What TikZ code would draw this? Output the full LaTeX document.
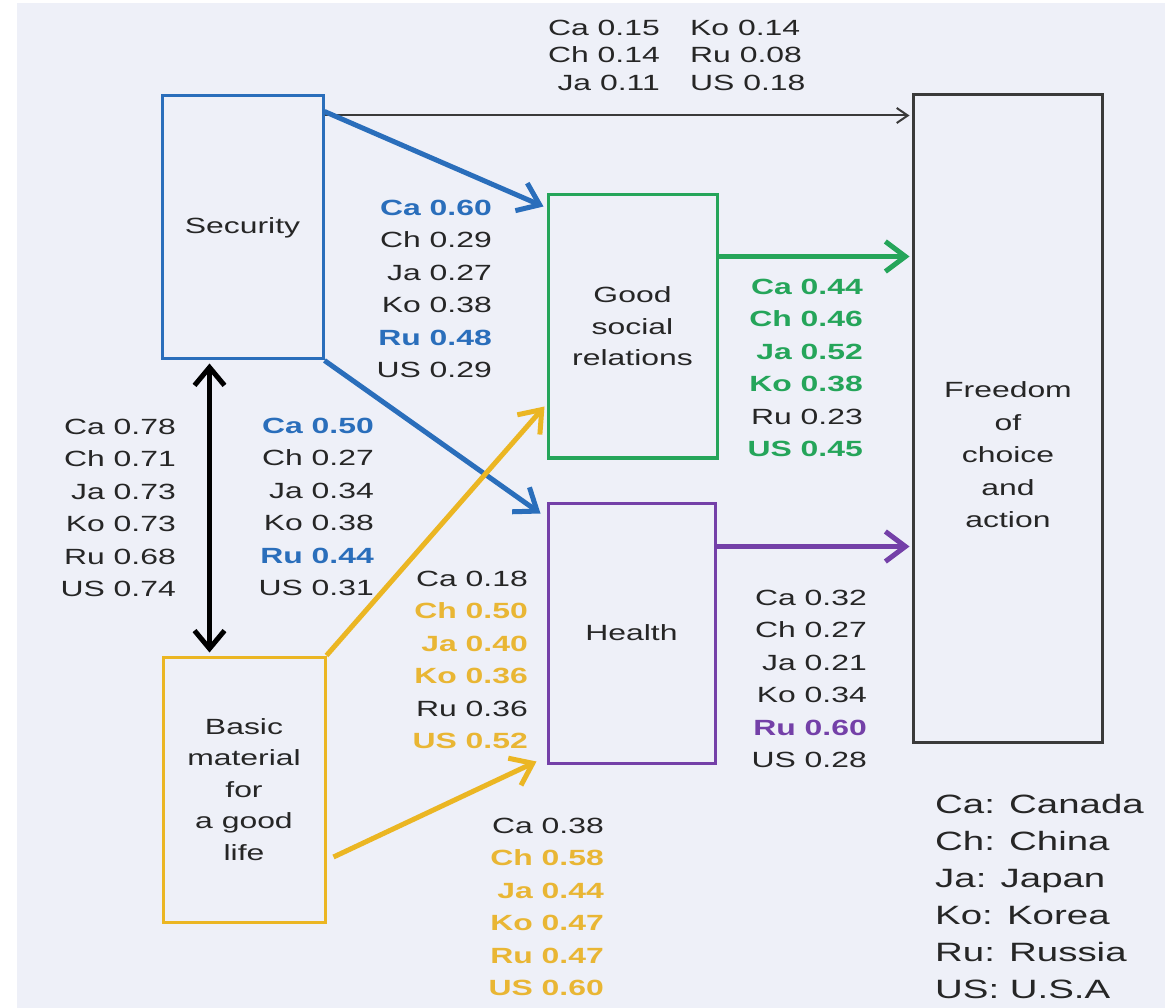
\documentclass[tikz,border=0pt]{standalone}
\usepackage{fontspec}
\setmainfont{Liberation Sans}[FakeStretch=1.45]
\usetikzlibrary{arrows.meta,calc}
\definecolor{bg}{HTML}{EEF0F8}
\definecolor{cblue}{HTML}{2A6EBB}
\definecolor{cgreen}{HTML}{25A55A}
\definecolor{cpurple}{HTML}{7440A8}
\definecolor{cyellow}{HTML}{EBB623}
\definecolor{tyellow}{HTML}{E9B634}
\definecolor{ink}{HTML}{262626}
\definecolor{boxgray}{HTML}{3A3A3A}
\newcommand{\cb}[1]{\textbf{\color{cblue}#1}}
\newcommand{\cg}[1]{\textbf{\color{cgreen}#1}}
\newcommand{\cp}[1]{\textbf{\color{cpurple}#1}}
\newcommand{\cy}[1]{\textbf{\color{tyellow}#1}}
\begin{document}
\begin{tikzpicture}[x=1pt,y=-1pt,
  every node/.style={text=ink},
  box/.style={draw, line width=3pt, inner sep=0pt, align=center,
    font=\fontsize{22}{31.5}\selectfont},
  lab/.style={inner sep=0pt, align=right, anchor=east,
    font=\fontsize{22}{32.4}\selectfont},
  thickarrow/.style={line width=5pt, -{Straight Barb[length=20pt,width=30pt]}},
  thinarrow/.style={line width=2pt, draw=boxgray, -{Straight Barb[length=11pt,width=15pt]}}
]
\useasboundingbox (0,0) rectangle (1171,1008);
\fill[bg] (17,3) rectangle (1165,1008);

% boxes
\node[box, draw=cblue, minimum width=161pt, minimum height=263pt] (sec) at (242.5,227.5) {Security};
\node[box, draw=cgreen, minimum width=169pt, minimum height=263pt] (good) at (632.5,326.5) {Good\\social\\relations};
\node[box, draw=cpurple, minimum width=167pt, minimum height=260pt] (health) at (631.5,633) {Health};
\node[box, draw=boxgray, minimum width=189pt, minimum height=647pt] (free) at (1007.5,418.5) {};
\node[box, draw=none, font=\fontsize{22}{32.5}\selectfont] (freetxt) at (1008,455) {Freedom\\of\\choice\\and\\action};
\node[box, draw=cyellow, minimum width=162pt, minimum height=265pt] (basic) at (244,789.5) {Basic\\material\\for\\a good\\life};

% connectors
\draw[thinarrow] ($(sec.north east)+(0,21)$) -- ($(free.north west)+(-2,22)$);
\draw[thickarrow, cblue] ($(sec.north east)+(0,17)$) -- ($(good.north west)+(-3,13)$);
\draw[thickarrow, cblue] (sec.south east) -- ($(health.north west)+(-6,12)$);
\draw[line width=5pt, black, {Straight Barb[length=18pt,width=30pt]}-{Straight Barb[length=18pt,width=30pt]}]
  ($(sec.south west)+(49,3)$) -- ($(basic.north west)+(48,-3)$);
\draw[thickarrow, cyellow] (basic.north east) -- ($(good.south west)+(-2,-53)$);
\draw[thickarrow, cyellow] ($(basic.east)+(7,67.5)$) -- ($(health.south west)+(-10,-3)$);
\draw[thickarrow, cgreen] ($(good.north east)+(0,63)$) -- ($(free.north west)+(-2,163)$);
\draw[thickarrow, cpurple] ($(health.north east)+(0,45)$) -- ($(free.north west)+(-2,453)$);

% labels
\node[lab, font=\fontsize{22}{27.5}\selectfont] (topa) at (660,55) {Ca 0.15\\Ch 0.14\\Ja 0.11};
\node[lab, anchor=west, align=left, font=\fontsize{22}{27.5}\selectfont] (topb) at (690,55) {Ko 0.14\\Ru 0.08\\US 0.18};
\node[lab] (lsg) at (492,289) {\cb{Ca 0.60}\\Ch 0.29\\Ja 0.27\\Ko 0.38\\\cb{Ru 0.48}\\US 0.29};
\node[lab] (lsh) at (374,507) {\cb{Ca 0.50}\\Ch 0.27\\Ja 0.34\\Ko 0.38\\\cb{Ru 0.44}\\US 0.31};
\node[lab] (lsb) at (176,508) {Ca 0.78\\Ch 0.71\\Ja 0.73\\Ko 0.73\\Ru 0.68\\US 0.74};
\node[lab] (lbg) at (528,660) {Ca 0.18\\\cy{Ch 0.50}\\\cy{Ja 0.40}\\\cy{Ko 0.36}\\Ru 0.36\\\cy{US 0.52}};
\node[lab] (lgf) at (863,368) {\cg{Ca 0.44}\\\cg{Ch 0.46}\\\cg{Ja 0.52}\\\cg{Ko 0.38}\\Ru 0.23\\\cg{US 0.45}};
\node[lab] (lhf) at (867,679) {Ca 0.32\\Ch 0.27\\Ja 0.21\\Ko 0.34\\\cp{Ru 0.60}\\US 0.28};
\node[lab] (lbh) at (604,907) {Ca 0.38\\\cy{Ch 0.58}\\\cy{Ja 0.44}\\\cy{Ko 0.47}\\\cy{Ru 0.47}\\\cy{US 0.60}};
\node[lab, anchor=west, align=left, font=\fontsize{26.5}{37}\selectfont] (legend) at (935,897)
  {Ca: Canada\\Ch: China\\Ja: Japan\\Ko: Korea\\Ru: Russia\\US: U.S.A};
\end{tikzpicture}
\end{document}
